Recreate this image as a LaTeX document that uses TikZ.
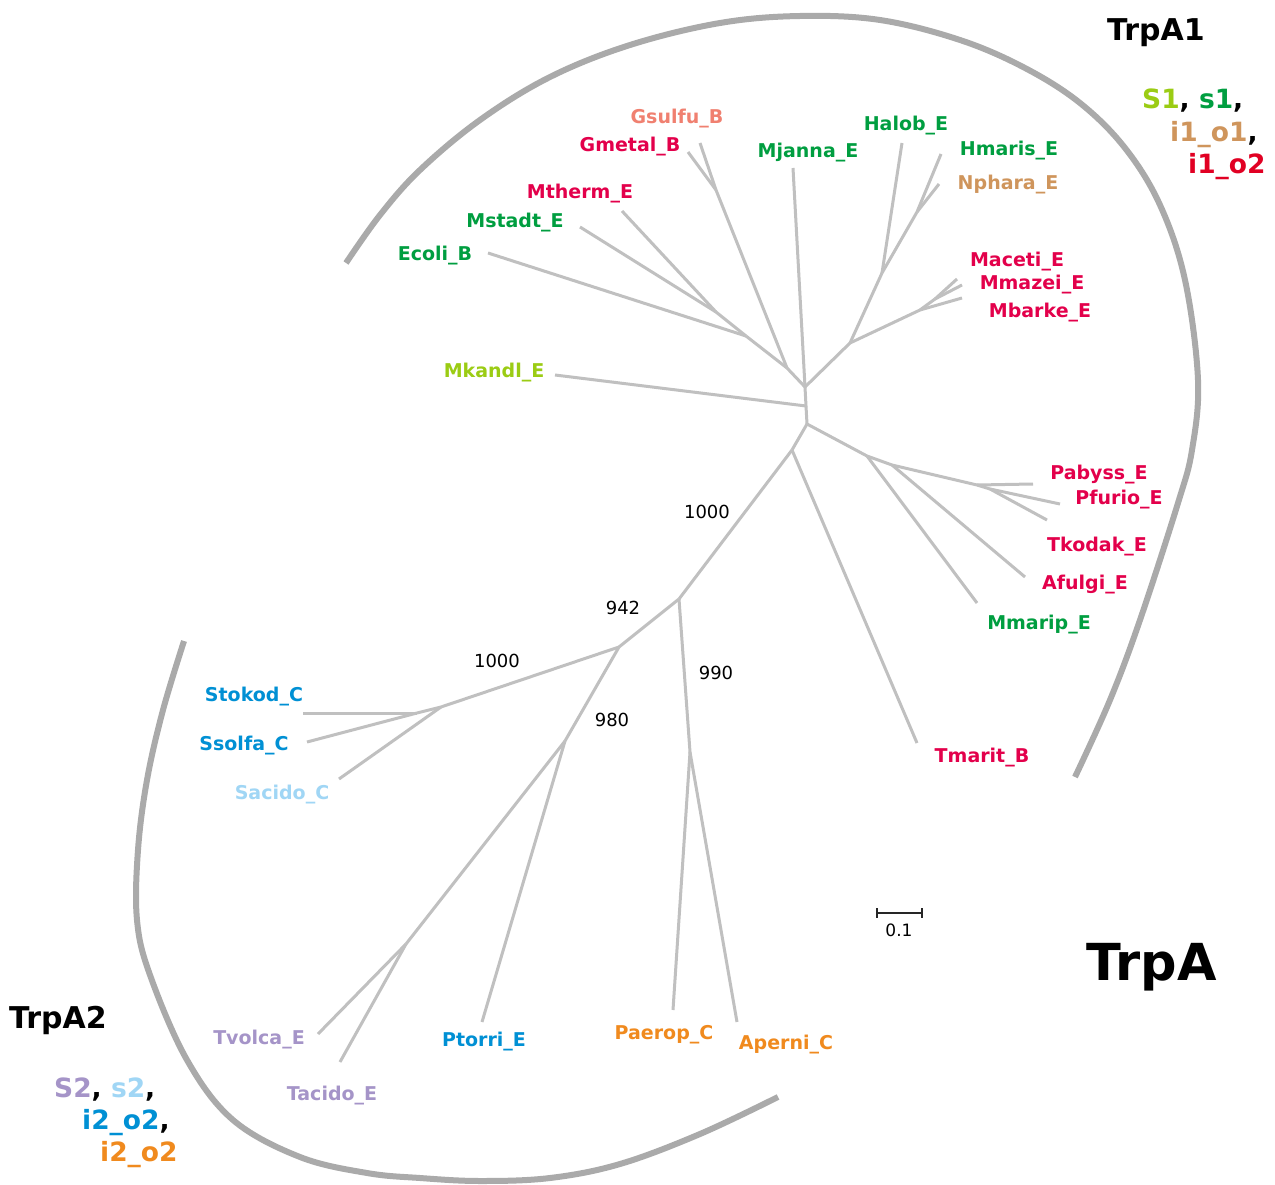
\documentclass[tikz,border=0pt]{standalone}
\usepackage{fontspec}
\newfontfamily\dv{DejaVu Sans}
\definecolor{crim}{RGB}{227,0,75}
\definecolor{grn}{RGB}{0,158,64}
\definecolor{ygrn}{RGB}{155,204,20}
\definecolor{salm}{RGB}{240,128,112}
\definecolor{tan}{RGB}{207,149,92}
\definecolor{red2}{RGB}{225,0,35}
\definecolor{blu}{RGB}{0,144,212}
\definecolor{lblu}{RGB}{160,214,245}
\definecolor{lav}{RGB}{165,148,200}
\definecolor{orng}{RGB}{240,138,30}
\definecolor{treegray}{RGB}{192,192,192}
\definecolor{arcgray}{RGB}{170,170,170}
\begin{document}
\begin{tikzpicture}[x=1pt,y=-1pt,
  lbl/.style={font=\dv\bfseries\fontsize{19}{19}\selectfont, inner sep=0pt, anchor=base},
  boot/.style={font=\dv\fontsize{18}{18}\selectfont, inner sep=0pt, anchor=base},
  leg/.style={font=\dv\bfseries\fontsize{26.5}{26.5}\selectfont, inner sep=0pt, anchor=base west},
  ttl/.style={font=\dv\bfseries\fontsize{30}{30}\selectfont, inner sep=0pt, anchor=base west},
  br/.style={draw=treegray, line width=3pt},
  arcst/.style={draw=arcgray, line width=6pt}]
\useasboundingbox (0,0) rectangle (1275,1185);
\fill[white] (0,0) rectangle (1275,1185);
% internal nodes
\coordinate (A) at (805,387);
\coordinate (B) at (806,406);
\coordinate (C) at (807,424);
\coordinate (D) at (787,368);
\coordinate (E) at (716,190);
\coordinate (F) at (746,336);
\coordinate (H) at (716,312);
\coordinate (I) at (850,343);
\coordinate (J) at (882,273);
\coordinate (K) at (917,212);
\coordinate (L) at (920,310);
\coordinate (M) at (935,299);
\coordinate (N) at (867,456);
\coordinate (O) at (892,465);
\coordinate (P) at (977,485);
\coordinate (Q) at (990,489);
\coordinate (R) at (792,450);
\coordinate (S) at (679,599);
\coordinate (T) at (619,647);
\coordinate (U) at (690,752);
\coordinate (V) at (441,707);
\coordinate (W) at (417,713);
\coordinate (X) at (565,741);
\coordinate (Y) at (406,944);
% tips
\coordinate (tGsulfu) at (700,143);
\coordinate (tGmetal) at (688,152);
\coordinate (tMjanna) at (793,168);
\coordinate (tHalob) at (902,143);
\coordinate (tHmaris) at (941,154);
\coordinate (tNphara) at (939,184);
\coordinate (tMtherm) at (622,211);
\coordinate (tMstadt) at (580,227);
\coordinate (tEcoli) at (488,253);
\coordinate (tMaceti) at (957,279);
\coordinate (tMmazei) at (962,285);
\coordinate (tMbarke) at (962,298);
\coordinate (tMkandl) at (555,375);
\coordinate (tPabyss) at (1033,484);
\coordinate (tPfurio) at (1060,504);
\coordinate (tTkodak) at (1047,520);
\coordinate (tAfulgi) at (1025,577);
\coordinate (tMmarip) at (977,603);
\coordinate (tTmarit) at (917,743);
\coordinate (tStokod) at (303,713);
\coordinate (tSsolfa) at (307,742);
\coordinate (tSacido) at (339,779);
\coordinate (tTvolca) at (318,1034);
\coordinate (tTacido) at (340,1062);
\coordinate (tPtorri) at (482,1022);
\coordinate (tPaerop) at (673,1010);
\coordinate (tAperni) at (737,1022);
% branches
\foreach \a/\b in {A/B,B/C,B/tMkandl,A/tMjanna,A/D,D/E,E/tGsulfu,E/tGmetal,D/F,F/tEcoli,F/H,H/tMstadt,H/tMtherm,
  A/I,I/J,J/tHalob,J/K,K/tHmaris,K/tNphara,I/L,L/M,M/tMaceti,M/tMmazei,L/tMbarke,
  C/N,N/tMmarip,N/O,O/tAfulgi,O/P,P/tPabyss,P/Q,Q/tPfurio,Q/tTkodak,
  C/R,R/tTmarit,R/S,S/T,S/U,U/tPaerop,U/tAperni,T/V,V/W,W/tStokod,W/tSsolfa,V/tSacido,
  T/X,X/tPtorri,X/Y,Y/tTvolca,Y/tTacido}
  \draw[br] (\a) -- (\b);
% labels
\node[lbl, text=salm] (nGsulfu) at (677,124) {Gsulfu\_B};
\node[lbl, text=crim] (nGmetal) at (630,152) {Gmetal\_B};
\node[lbl, text=grn] (nMjanna) at (808,158) {Mjanna\_E};
\node[lbl, text=grn] (nHalob) at (906,131) {Halob\_E};
\node[lbl, text=grn] (nHmaris) at (1009,156) {Hmaris\_E};
\node[lbl, text=tan] (nNphara) at (1008,190) {Nphara\_E};
\node[lbl, text=crim] (nMtherm) at (580,199) {Mtherm\_E};
\node[lbl, text=grn] (nMstadt) at (515,228) {Mstadt\_E};
\node[lbl, text=grn] (nEcoli) at (435,261) {Ecoli\_B};
\node[lbl, text=crim] (nMaceti) at (1017,267) {Maceti\_E};
\node[lbl, text=crim] (nMmazei) at (1032,290) {Mmazei\_E};
\node[lbl, text=crim] (nMbarke) at (1040,317) {Mbarke\_E};
\node[lbl, text=ygrn] (nMkandl) at (494,377) {Mkandl\_E};
\node[lbl, text=crim] (nPabyss) at (1099,479) {Pabyss\_E};
\node[lbl, text=crim] (nPfurio) at (1119,504) {Pfurio\_E};
\node[lbl, text=crim] (nTkodak) at (1097,551) {Tkodak\_E};
\node[lbl, text=crim] (nAfulgi) at (1085,589) {Afulgi\_E};
\node[lbl, text=grn] (nMmarip) at (1039,629) {Mmarip\_E};
\node[lbl, text=crim] (nTmarit) at (982,762) {Tmarit\_B};
\node[lbl, text=blu] (nStokod) at (254,701) {Stokod\_C};
\node[lbl, text=blu] (nSsolfa) at (244,750) {Ssolfa\_C};
\node[lbl, text=lblu] (nSacido) at (282,799) {Sacido\_C};
\node[lbl, text=lav] (nTvolca) at (259,1044) {Tvolca\_E};
\node[lbl, text=lav] (nTacido) at (332,1100) {Tacido\_E};
\node[lbl, text=blu] (nPtorri) at (484,1046) {Ptorri\_E};
\node[lbl, text=orng] (nPaerop) at (664,1039) {Paerop\_C};
\node[lbl, text=orng] (nAperni) at (786,1049) {Aperni\_C};
% bootstrap values
\node[boot] (b1) at (707,518) {1000};
\node[boot] (b2) at (623,614) {942};
\node[boot] (b3) at (716,679) {990};
\node[boot] (b4) at (612,726) {980};
\node[boot] (b5) at (497,667) {1000};
% arcs
\draw[arcst] plot[smooth, tension=0.6] coordinates {(346,263) (380,215) (420,170) (480,120) (550,77) (630,45) (720,23) (800,16) (880,20) (960,40) (1025,68) (1080,103) (1125,148) (1160,205) (1185,280) (1198,380) (1192,450) (1178,503) (1140,620) (1110,700) (1075,777)};
\draw[arcst] plot[smooth, tension=0.6] coordinates {(184,641) (163,710) (147,780) (138,850) (137,920) (150,975) (187,1060) (233,1120) (300,1157) (367,1173) (420,1178) (480,1181) (550,1178) (620,1164) (700,1134) (778,1097)};
% scale bar
\draw[line width=2pt, black!85] (877,913) -- (922,913);
\draw[line width=1.5pt, black!85] (877,908) -- (877,918) (922,908) -- (922,918);
\node[boot, font=\dv\fontsize{17}{17}\selectfont] (sc) at (899,936) {0.1};
% legend texts
\node[ttl] (t1) at (1107,41) {TrpA1};
\node[leg] (l1a) at (1142,109) {\textcolor{ygrn}{S1}, \textcolor{grn}{s1},};
\node[leg] (l1b) at (1170,142) {\textcolor{tan}{i1\_o1},};
\node[leg, text=red2] (l1c) at (1188,174) {i1\_o2};
\node[ttl] (t2) at (9,1028) {TrpA2};
\node[leg] (l2a) at (54,1097) {\textcolor{lav}{S2}, \textcolor{lblu}{s2},};
\node[leg] (l2b) at (82,1129) {\textcolor{blu}{i2\_o2},};
\node[leg, text=orng] (l2c) at (100,1161) {i2\_o2};
\node[ttl, font=\dv\bfseries\fontsize{51}{51}\selectfont] (tt) at (1086,980) {TrpA};
\end{tikzpicture}
\end{document}
